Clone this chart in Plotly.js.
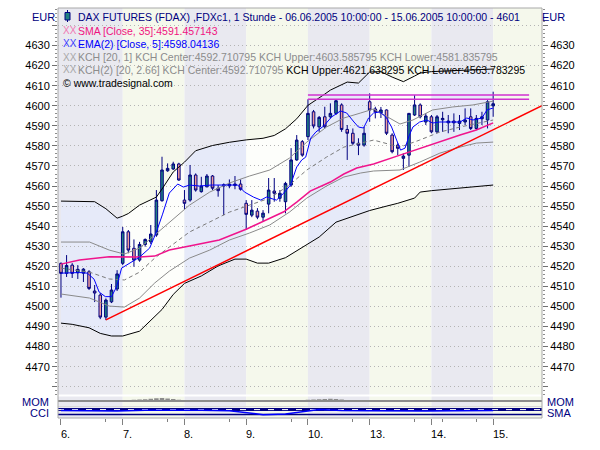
<!DOCTYPE html>
<html><head><meta charset="utf-8">
<script src="https://cdn.plot.ly/plotly-3.0.1.min.js"></script>
<style>html,body{margin:0;padding:0;background:#fff}#chart{width:600px;height:450px}</style>
</head><body><div id="chart"></div>
<script>
// ---- categories / ticks ----
const dayLabels = ['6.','7.','8.','9.','10.','13.','14.','15.'];
const dayStarts = [0,11,22,33,44,55,66,77];
const minorTicks = [8,19,30,41,52,63,68,74];
const priceTicks = [4460,4470,4480,4490,4500,4510,4520,4530,4540,4550,4560,4570,4580,4590,4600,4610,4620,4630,4640];
const priceLabels = ['','4470','4480','4490','4500','4510','4520','4530','4540','4550','4560','4570','4580','4590','4600','4610','4620','4630',''];

// ---- hourly bars (FDAX) ----
const barIdx = Array.from({length:78},(_,i)=>i);
const open = [4521.5,4516.5,4520.6,4516.8,4516.6,4517.3,4507.7,4505.7,4494.7,4502.3,4508.7,
  4521.5,4537.2,4529.0,4523.1,4530.9,4532.2,4535.6,4552.7,4567.6,4568.5,4571.0,
  4553.0,4553.0,4565.5,4557.2,4559.6,4565.0,4558.9,4560.0,4560.1,4560.3,4561.0,
  4551.4,4545.5,4547.5,4544.5,4551.0,4557.5,4553.9,4552.2,4560.5,4573.0,4582.1,
  4584.6,4597.0,4589.5,4594.5,4594.5,4596.2,4600.4,4588.2,4586.3,4581.3,4580.4,
  4602.0,4598.4,4596.4,4597.9,4585.4,4580.4,4573.8,4575.4,4595.4,4600.4,4591.9,
  4594.5,4587.0,4593.0,4591.5,4592.4,4591.2,4591.9,4594.5,4588.7,4593.5,4592.9,4599.9];
const high = [4521.9,4525.6,4521.6,4520.6,4519.1,4518.1,4510.7,4506.7,4504.0,4511.2,4518.1,
  4539.6,4538.1,4533.4,4532.2,4533.9,4540.6,4558.0,4574.6,4571.3,4572.1,4571.6,
  4558.0,4570.5,4566.3,4564.6,4566.0,4565.5,4560.5,4561.3,4563.3,4565.0,4563.3,
  4553.0,4553.0,4549.0,4548.0,4564.0,4564.0,4558.0,4562.1,4578.9,4585.4,4582.9,
  4603.2,4597.9,4594.9,4599.5,4601.2,4603.2,4601.2,4590.4,4588.7,4583.8,4589.5,
  4606.2,4599.5,4599.4,4598.2,4586.3,4581.3,4576.3,4596.4,4605.3,4601.2,4596.4,
  4595.4,4595.4,4597.0,4595.4,4596.2,4595.4,4598.7,4598.7,4595.4,4597.0,4602.8,4607.0];
const low = [4504.4,4514.7,4514.2,4513.7,4512.2,4508.2,4502.2,4493.7,4493.2,4501.7,4507.7,
  4520.6,4526.5,4519.8,4522.3,4529.8,4531.1,4534.7,4552.2,4567.1,4568.0,4562.6,
  4548.5,4552.2,4557.2,4556.7,4559.4,4558.0,4554.7,4545.5,4558.9,4558.4,4557.7,
  4538.1,4544.5,4543.5,4542.1,4546.4,4552.2,4552.2,4546.4,4559.6,4572.6,4574.6,
  4582.9,4588.7,4587.0,4588.7,4593.7,4595.4,4587.0,4573.0,4580.4,4575.4,4579.6,
  4592.0,4593.7,4593.9,4585.4,4576.3,4575.4,4568.0,4569.6,4594.9,4593.7,4590.4,
  4586.3,4586.4,4587.0,4586.3,4587.0,4587.9,4590.4,4587.9,4587.9,4590.4,4588.7,4594.5];
const close = [4516.5,4520.4,4516.5,4518.5,4518.6,4509.0,4506.7,4494.7,4503.2,4508.2,4516.2,
  4537.2,4528.1,4523.1,4530.9,4533.4,4536.1,4553.0,4568.0,4568.8,4571.0,4563.0,
  4551.4,4565.5,4558.0,4560.0,4565.0,4558.9,4557.7,4560.6,4561.0,4561.0,4558.4,
  4545.9,4548.0,4544.5,4546.5,4558.0,4556.4,4556.4,4561.3,4573.0,4582.9,4575.4,
  4596.2,4589.9,4594.2,4589.5,4596.2,4602.5,4588.2,4586.3,4581.3,4580.3,4586.3,
  4597.9,4597.0,4597.9,4586.3,4577.1,4578.8,4574.9,4596.2,4600.4,4594.5,4594.9,
  4587.0,4594.5,4593.7,4592.4,4591.5,4592.4,4592.9,4588.7,4593.7,4594.5,4602.0,4601.0];

// ---- indicator lines ----
const kch2UpX = [0,3,6,8,10,11,12,14,17,18,20,22,24,27,30,33,36,38,40,42,44,47,48,51,53,55,57,59,61,63,64,66,69,73,77];
const kch2UpY = [4552.5,4552.4,4552.2,4548.7,4544.0,4545.0,4546.3,4550.5,4554.5,4558.5,4567.0,4571.9,4577.6,4580.2,4581.8,4583.0,4583.8,4585.2,4588.5,4593.5,4600.2,4605.8,4607.8,4611.8,4611.3,4616.8,4617.0,4614.3,4612.0,4614.8,4616.3,4617.0,4617.3,4617.8,4618.3];
const kch2LoX = [0,2,5,7,9,11,14,16,18,20,22,25,28,31,33,35,37,40,42,44,46,49,52,55,58,60,63,64,66,69,72,77];
const kch2LoY = [4491.7,4491.1,4489.4,4486.6,4485.3,4485.3,4487.7,4493.0,4498.5,4506.0,4511.5,4515.2,4520.2,4523.6,4523.6,4521.6,4521.6,4524.3,4527.8,4531.2,4534.6,4542.0,4545.0,4547.8,4550.0,4551.4,4554.0,4557.0,4557.7,4558.5,4559.0,4560.5];
const kch1UpX = [0,5.1,8.6,11.3,14,16.7,19.3,22.9,26.5,30,33.6,37.2,40.7,43.8,47.3,50.4,53.4,55.7,58.2,60.4,62.7,66.2,69.8,73.4,77];
const kch1UpY = [4532.1,4532.1,4528.1,4526.1,4529.1,4535.6,4542.1,4550.5,4557.0,4561.5,4565.0,4568.0,4573.9,4581.9,4589.4,4593.9,4596.4,4598.4,4594.4,4590.9,4592.9,4597.9,4599.4,4600.4,4602.3];
const kch1LoX = [0,5.1,8.6,11.3,14,16.7,19.3,22.9,26.5,30,33.6,37.2,40.7,43.8,47.3,50.4,53.4,55.7,60.4,63.9,67.5,71.1,74,77];
const kch1LoY = [4506.2,4504.2,4500.2,4499.7,4504.2,4511.7,4517.6,4524.1,4528.1,4533.1,4536.6,4540.6,4547.0,4554.0,4560.0,4564.5,4566.5,4567.5,4568.0,4571.9,4576.4,4579.4,4581.4,4581.9];
const kchMidX = [0,5.1,8.6,11.3,14,16.7,19.3,22.9,26.5,30,33.6,37.2,40.7,43.8,47.3,50.4,53.4,55.7,60.4,63.9,67.5,71.1,77];
const kchMidY = [4519.1,4517.1,4513.7,4513.2,4517.1,4524.1,4529.6,4537.1,4542.1,4547.0,4550.5,4554.0,4560.5,4568.0,4574.4,4579.4,4581.4,4582.9,4579.4,4582.9,4586.9,4589.4,4592.9];
const smaX = [0,3.3,8.6,14,16.7,19.3,22.9,28.2,33.1,36.1,39.7,42,44.4,48,50.4,52.7,55.7,60.4,63.9,67.5,71.1,74,77];
const smaY = [4521.1,4523.1,4524.8,4524.6,4525.1,4528.1,4530.1,4533.1,4538.6,4542.5,4547.2,4552.0,4557.5,4562.0,4566.0,4569.0,4571.0,4575.4,4578.8,4582.1,4585.4,4587.9,4591.5];
const emaX = [0,3.3,4.7,5.9,6.8,7.9,9,9.9,10.8,12.2,14,15.8,17,18.1,19.3,20.8,21.8,22.9,24.7,26.8,31.5,32.7,34.3,35.6,36.6,38.4,39.7,40.9,42,42.9,43.6,44.5,45.4,46.8,48.2,49.8,50.9,52.2,53,53.9,54.8,55.7,56.8,57.9,58.9,59.8,60.5,61.3,62,62.7,63.9,65.2,66.2,67.5,71.1,72.3,73.4,75,75.9,77];
const emaY = [4516.6,4516.9,4516.6,4513.6,4507.2,4504.9,4504.9,4509.7,4519.1,4521.6,4524.6,4529.1,4537.1,4546.0,4556.5,4561.0,4559.5,4560.5,4560.0,4560.5,4560.5,4557.0,4554.5,4553.0,4554.5,4553.0,4556.5,4560.5,4569.5,4573.0,4574.4,4583.9,4586.9,4589.9,4594.4,4597.4,4596.4,4591.9,4589.4,4588.9,4593.9,4596.4,4596.9,4594.4,4589.4,4582.9,4577.9,4578.9,4584.9,4589.4,4591.9,4592.9,4591.4,4591.9,4591.9,4593.9,4592.9,4593.9,4597.9,4598.9];
const trendX = [8, 85.7];
const trendY = [4493.3, 4600.0];
const resX = [44, 83.4];
const resLevels = [4605.3, 4603.3];

// ---- lower panels ----
const mom = [3,2,-2,2,3,-3,-4,-3,-2,2,4, 6,8,10,12,14,18,22,24,20,16,10, 6,8,6,4,3,2,2,3,2,-1,-2,
  -3,-2,-3,-2,2,2,2,4,6,8,6, 10,12,14,16,18,16,12,8,4,2,3, 4,2,-1,-3,-4,-4,-5,-2,2,1,1,
  -2,-3,-3,1,2,1,1,3,-2,1,2,3];
const cciX = [0,5,10,15,20,25,30,33,36,40,44,46,48,50,55,60,65,70,77];
const cciY = [60,50,40,70,80,70,50,-20,-110,-80,60,100,80,60,50,30,40,50,60];
const cciLevels = [100,-100];

// ---- legend texts ----
const titleText = 'DAX FUTURES (FDAX) ,FDXc1, 1 Stunde - 06.06.2005 10:00:00 - 15.06.2005 10:00:00 - 4601';
const smaText = 'SMA [Close, 35]:4591.457143';
const emaText = 'EMA(2) [Close, 5]:4598.04136';
const kch1Text = 'KCH [20, 1] KCH Center:4592.710795 KCH Upper:4603.585795 KCH Lower:4581.835795';
const kch2TextA = 'KCH(2) [20, 2.66] KCH Center:4592.710795';
const kch2TextB = ' KCH Upper:4621.638295 KCH Lower:4563.783295';
const copyText = '\u00a9 www.tradesignal.com';

// ---- layout geometry ----
const W = 600, H = 450, ML = 58, MR = 58, MT = 8, MB = 32;
const PW = W - ML - MR, PH = H - MT - MB;
const px = x => (x - ML) / PW;
const py = y => (H - MB - y) / PH;
const xRange = [-0.53, 85.7];
const yRange = [4455.9, 4648.7];
const FONT = 'Liberation Sans, Arial, sans-serif';
const NAVY = '#000080';
const LEG = 10.5;

const shapes = [];
// day stripes
for (let k = 0; k < dayStarts.length; k++) {
  const x0 = k === 0 ? xRange[0] : dayStarts[k];
  const x1 = k < dayStarts.length - 1 ? dayStarts[k+1] : xRange[1];
  shapes.push({type:'rect', layer:'below', xref:'x', yref:'paper', x0, x1, y0:0, y1:1,
    fillcolor: k % 2 === 0 ? '#e9e9f0' : '#f5f8ec', line:{width:0}});
}
// channel fill per day
function chanPath(s, e) {
  const up = kch2UpX.map((x,i)=>[x,kch2UpY[i]]).filter(p=>p[0]>=s && p[0]<=e);
  const lo = kch2LoX.map((x,i)=>[x,kch2LoY[i]]).filter(p=>p[0]>=s && p[0]<=e).reverse();
  return 'M' + up.concat(lo).map(p=>p[0]+','+p[1]).join('L') + 'Z';
}
for (let k = 0; k < dayStarts.length - 1; k++) {
  shapes.push({type:'path', layer:'below', xref:'x', yref:'y', path: chanPath(dayStarts[k], dayStarts[k+1]),
    fillcolor: k % 2 === 0 ? '#e6eaf9' : '#fdfefb', line:{width:0}});
}
// panel separators and frame
shapes.push({type:'line', layer:'above', xref:'paper', yref:'paper', x0:0, x1:1, y0:py(395.5), y1:py(395.5), line:{color:'#ffffff', width:2}});
shapes.push({type:'line', layer:'above', xref:'paper', yref:'paper', x0:0, x1:1, y0:py(406.5), y1:py(406.5), line:{color:'#d8d8d8', width:1}});
shapes.push({type:'rect', layer:'above', xref:'paper', yref:'paper', x0:0, x1:1, y0:0, y1:1, line:{color:'#a8a8a8', width:1}});
// legend candle icon
shapes.push({type:'line', layer:'above', xref:'paper', yref:'paper', x0:px(67.5), x1:px(67.5), y0:py(22), y1:py(10), line:{color:NAVY, width:1}});
shapes.push({type:'rect', layer:'above', xref:'paper', yref:'paper', x0:px(65), x1:px(70), y0:py(20), y1:py(12.5), fillcolor:'#218080', line:{color:NAVY, width:1}});

const ann = [];
function txt(x, y, text, color, opts, size) {
  ann.push(Object.assign({xref:'paper', yref:'paper', x:px(x), y:py(y), text, showarrow:false,
    xanchor:'left', yanchor:'middle', font:{family:FONT, size:size||11, color}}, opts||{}));
}
txt(76, 16.7, titleText, NAVY, null, LEG);
txt(61, 30.7, 'XX', '#f07ab4', null, 10);
txt(76, 30.7, smaText, '#f0147f', null, LEG);
txt(61, 43.7, 'XX', '#3c3cff', null, 10);
txt(76, 43.7, emaText, '#0000ff', null, LEG);
txt(61, 57.3, 'XX', '#a8a8a8', null, 10);
txt(76, 57.3, kch1Text, '#8c8c8c', null, LEG);
txt(61, 69.8, 'XX', '#a8a8a8', null, 10);
txt(76, 69.8, '<span style="color:#8c8c8c">' + kch2TextA + '</span><span style="color:#000000">' + kch2TextB + '</span>', '#000', null, LEG);
txt(61, 82.7, copyText, '#000000', null, LEG);
txt(43, 16.7, 'EUR', NAVY, {xanchor:'center'});
txt(553.5, 16.7, 'EUR', NAVY, {xanchor:'center'});
txt(51, 401.7, 'MOM', NAVY, {xanchor:'right'});
txt(51, 412.8, 'CCI', NAVY, {xanchor:'right'});
txt(545, 401.7, 'MOM', NAVY);
txt(545, 413.3, 'SMA', NAVY);
dayLabels.forEach((lab, i) => {
  ann.push({xref:'x', yref:'paper', x:dayStarts[i], y:py(433.5), text:lab, showarrow:false,
    xanchor:'left', yanchor:'middle', xshift:-2, font:{family:FONT, size:11, color:'#000'}});
});

const ln = (x, y, color, width, extra) => Object.assign({type:'scatter', mode:'lines', x, y,
  line:{color, width}, hoverinfo:'skip', showlegend:false, xaxis:'x', yaxis:'y'}, extra||{});

const traces = [
  ln(kch2UpX, kch2UpY, '#000000', 1),
  ln(kch2LoX, kch2LoY, '#000000', 1),
  ln(kch1UpX, kch1UpY, '#8a8a8a', 1),
  ln(kch1LoX, kch1LoY, '#8a8a8a', 1),
  ln(kchMidX, kchMidY, '#7a7a7a', 1, {line:{color:'#7a7a7a', width:1, dash:'4px,3px'}}),
  ln(smaX, smaY, '#f0148c', 1.5),
  ln(trendX, trendY, '#ff0000', 1.5),
  ln(resX, [resLevels[0], resLevels[0]], '#d030d0', 1.5),
  ln(resX, [resLevels[1], resLevels[1]], '#d030d0', 1.5),
  ln(emaX, emaY, '#0000ff', 1),
  {type:'candlestick', x:barIdx, open, high, low, close, xaxis:'x', yaxis:'y',
    whiskerwidth:0, hoverinfo:'skip', showlegend:false,
    increasing:{line:{color:NAVY, width:1}, fillcolor:'#218080'},
    decreasing:{line:{color:NAVY, width:1}, fillcolor:'#f29c9c'}},
  {type:'scatter', mode:'lines', x:barIdx, y:close, xaxis:'x', yaxis:'y4',
    line:{color:'rgba(0,0,0,0)', width:0}, hoverinfo:'skip', showlegend:false},
  {type:'bar', x:barIdx, y:mom, xaxis:'x', yaxis:'y2', marker:{color:'#8c8c8c'}, width:0.8,
    hoverinfo:'skip', showlegend:false},
  ln(xRange, [cciLevels[0], cciLevels[0]], NAVY, 3, {yaxis:'y3'}),
  ln(xRange, [cciLevels[0], cciLevels[0]], '#ffffff', 1, {yaxis:'y3', line:{color:'#ffffff', width:1, dash:'6px,8px'}}),
  ln(xRange, [cciLevels[1], cciLevels[1]], NAVY, 1.5, {yaxis:'y3'}),
  ln(cciX, cciY, '#0000ff', 1.5, {yaxis:'y3'})
];

const yTickCommon = {
  range: yRange, tickmode:'array', tickvals: priceTicks, ticktext: priceLabels,
  ticks:'outside', ticklen:5, tickcolor:'#707070', tickwidth:1,
  tickfont:{family:FONT, size:11, color:'#000'}, zeroline:false, showline:false,
  minor:{tickmode:'linear', tick0:4460, dtick:2, ticks:'outside', ticklen:2, tickcolor:'#8c8c8c', showgrid:false},
  fixedrange:true
};

const layout = {
  width: W, height: H,
  margin:{l:ML, r:MR, t:MT, b:MB, pad:0},
  paper_bgcolor:'#ffffff', plot_bgcolor:'#ffffff',
  showlegend:false, hovermode:false, boxgap:0.35,
  xaxis:{domain:[0,1], anchor:'y3', range:xRange, type:'linear', rangeslider:{visible:false},
    tickmode:'array', tickvals:dayStarts, showticklabels:false, ticks:'outside', ticklen:6,
    tickcolor:'#808080', showgrid:false, zeroline:false, showline:false, fixedrange:true,
    minor:{tickmode:'array', tickvals:minorTicks, ticks:'outside', ticklen:3, tickcolor:'#808080', showgrid:false}},
  yaxis: Object.assign({}, yTickCommon, {domain:[py(395), 1], anchor:'x', side:'left',
    showgrid:true, gridcolor:'#b4b4b4', griddash:'1px,3px', gridwidth:1}),
  yaxis4: Object.assign({}, yTickCommon, {overlaying:'y', side:'right', anchor:'x', showgrid:false}),
  yaxis2:{domain:[py(406), py(395)], anchor:'x', range:[-40,48], showticklabels:false, ticks:'',
    showgrid:false, zeroline:true, zerolinecolor:'#8c8c8c', zerolinewidth:1.5, fixedrange:true},
  yaxis3:{domain:[0, py(406)], anchor:'x', range:[-250,250], showticklabels:false, ticks:'',
    showgrid:false, zeroline:false, fixedrange:true},
  shapes, annotations: ann
};

Plotly.newPlot('chart', traces, layout, {displayModeBar:false, staticPlot:true});
</script></body></html>
